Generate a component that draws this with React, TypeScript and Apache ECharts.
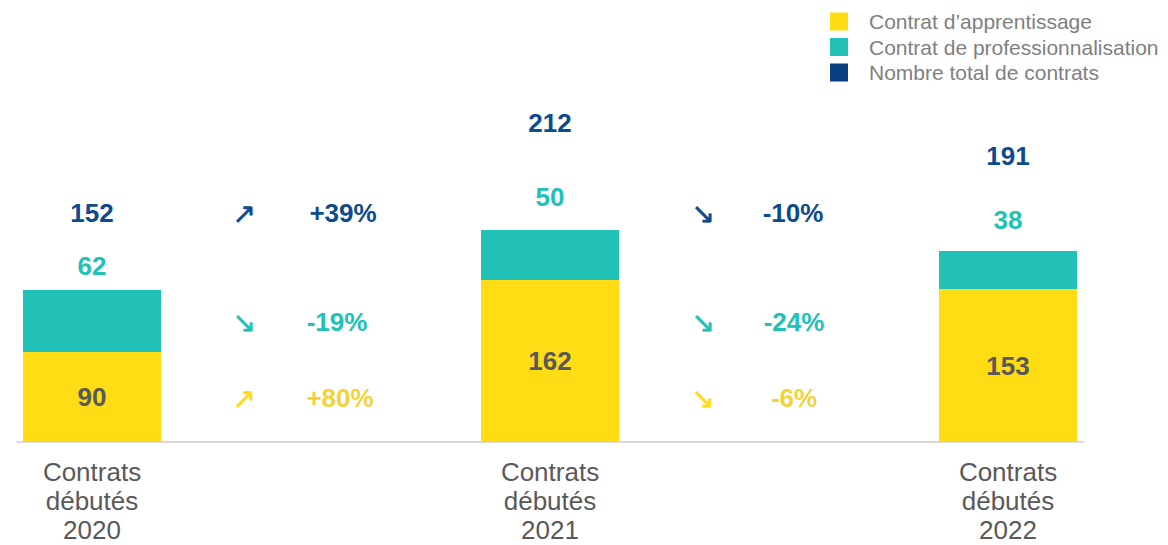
import React, { useEffect, useRef } from "react";
import * as echarts from "echarts";

const categories = ["Contrats\ndébutés\n2020", "Contrats\ndébutés\n2021", "Contrats\ndébutés\n2022"];
const apprentissage = [90, 162, 153];
const professionnalisation = [62, 50, 38];
const totals = [152, 212, 191];
const changesTotal = ["+39%", "-10%"];
const changesPro = ["-19%", "-24%"];
const changesApp = ["+80%", "-6%"];
const arrowsTotal = ["↗", "↘"];
const arrowsPro = ["↘", "↘"];
const arrowsApp = ["↗", "↘"];

// label offsets (positions only)
const proLabelOffsets = [-11, -20, -18];
const totalLabelOffsets = [-64, -94, -82];

const YELLOW = "#FFDC14";
const TEAL = "#21C1B8";
const BLUE = "#0D4A8E";
const LEGEND_BLUE = "#0B3F82";
const YELLOW_TXT = "#F2D339";
const FONT = "'Liberation Sans', Arial, sans-serif";

export default function App() {
  const ref = useRef<HTMLDivElement>(null);
  useEffect(() => {
    const chart = echarts.init(ref.current!, null, { renderer: "svg" });
    const changeTexts: any[] = [];
    const gapX = [244, 703];
    const rows = [
      { y: 213, pctX: [343, 793], arrows: arrowsTotal, pcts: changesTotal, color: BLUE, acolor: BLUE },
      { y: 322, pctX: [337, 794], arrows: arrowsPro, pcts: changesPro, color: TEAL, acolor: TEAL },
      { y: 398, pctX: [340, 794], arrows: arrowsApp, pcts: changesApp, color: YELLOW_TXT, acolor: YELLOW },
    ];
    rows.forEach((r) => {
      [0, 1].forEach((i) => {
        changeTexts.push({
          type: "text",
          x: gapX[i],
          y: r.y,
          style: {
            text: r.arrows[i],
            fill: r.acolor,
            stroke: r.acolor,
            lineWidth: 0.6,
            font: `28px 'DejaVu Sans', sans-serif`,
            align: "center",
            verticalAlign: "middle",
          },
        });
        changeTexts.push({
          type: "text",
          x: r.pctX[i],
          y: r.y,
          style: {
            text: r.pcts[i],
            fill: r.color,
            font: `bold 26px ${FONT}`,
            align: "center",
            verticalAlign: "middle",
          },
        });
      });
    });

    const numLabel = {
      fontSize: 26,
      lineHeight: 26,
      fontWeight: "bold" as const,
      fontFamily: FONT,
    };

    chart.setOption({
      animation: false,
      legend: {
        orient: "vertical",
        left: 830,
        top: 11,
        icon: "rect",
        itemWidth: 18,
        itemHeight: 18,
        itemGap: 4.5,
        padding: 0,
        textStyle: { fontSize: 21, color: "#7F7F7F", fontFamily: FONT, padding: [0, 0, 0, 16] },
        data: [
          { name: "Contrat d’apprentissage", itemStyle: { color: YELLOW } },
          { name: "Contrat de professionnalisation", itemStyle: { color: TEAL } },
          { name: "Nombre total de contrats", itemStyle: { color: LEGEND_BLUE, opacity: 1 } },
        ],
      },
      grid: [
        { left: -137, right: -69, top: 42, bottom: 103, outerBoundsMode: "none", containLabel: false },
        { left: 17, right: 85, top: 42, bottom: 103, outerBoundsMode: "none", containLabel: false },
      ],
      xAxis: [
        {
          type: "category",
          gridIndex: 0,
          data: categories,
          axisTick: { show: false },
          axisLine: { show: false },
          axisLabel: {
            fontSize: 26,
            lineHeight: 29,
            color: "#595959",
            fontFamily: FONT,
            margin: 15,
            interval: 0,
          },
        },
        {
          type: "value",
          gridIndex: 1,
          min: 0,
          max: 1,
          axisLabel: { show: false },
          axisTick: { show: false },
          splitLine: { show: false },
          axisLine: { show: true, lineStyle: { color: "#D9D9D9", width: 2 } },
        },
      ],
      yAxis: [
        { type: "value", gridIndex: 0, min: 0, max: 400, show: false },
        { type: "value", gridIndex: 1, min: 0, max: 400, show: false },
      ],
      series: [
        {
          name: "Contrat d’apprentissage",
          type: "bar",
          stack: "c",
          barWidth: 138,
          itemStyle: { color: YELLOW },
          label: { show: true, position: "inside", color: "#595959", ...numLabel },
          data: apprentissage,
        },
        {
          name: "Contrat de professionnalisation",
          type: "bar",
          stack: "c",
          barWidth: 138,
          itemStyle: { color: TEAL },
          label: { show: true, position: "top", distance: 0, color: TEAL, ...numLabel },
          data: professionnalisation.map((v, i) => ({
            value: v,
            label: { offset: [0, proLabelOffsets[i]] },
          })),
        },
        {
          name: "Nombre total de contrats",
          type: "scatter",
          symbolSize: 0,
          itemStyle: { color: LEGEND_BLUE, opacity: 1 },
          label: { show: true, position: "top", distance: 0, color: BLUE, ...numLabel },
          data: totals.map((v, i) => ({
            value: v,
            label: { offset: [0, totalLabelOffsets[i]] },
          })),
        },
      ],
      graphic: changeTexts,
    });
    return () => chart.dispose();
  }, []);
  return <div ref={ref} style={{ width: 1168, height: 545, position: "absolute", left: 0, top: 0 }} />;
}
